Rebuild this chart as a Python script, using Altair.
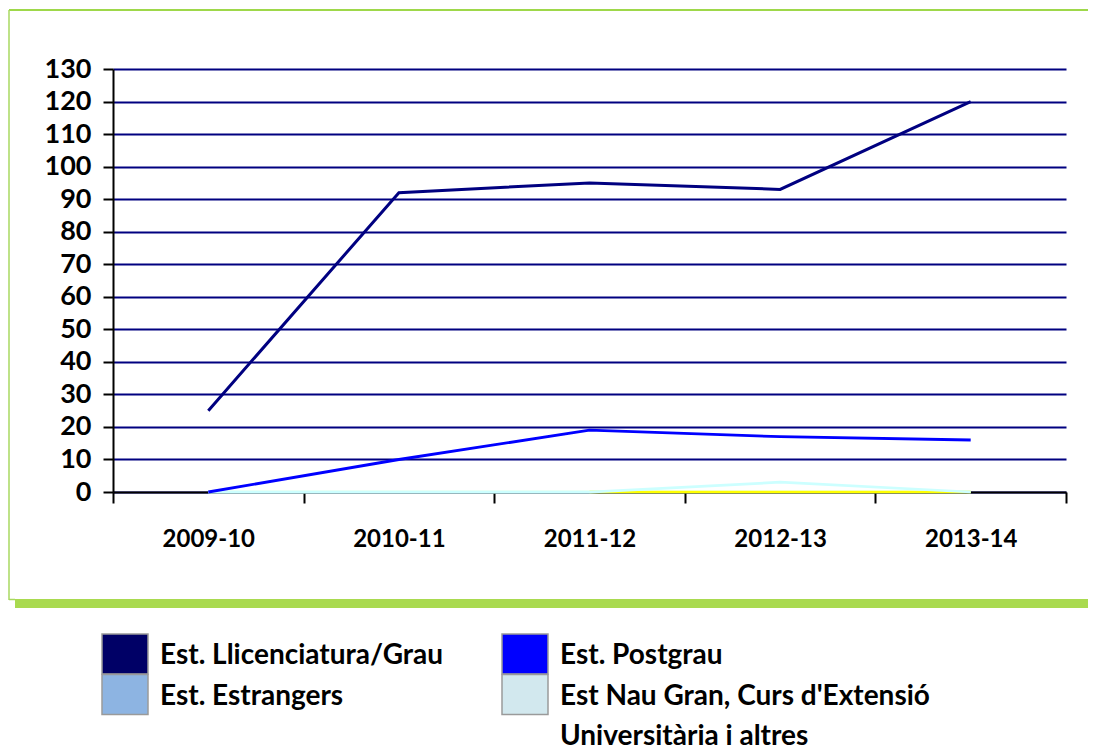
import altair as alt
import pandas as pd

# ---- data ----
years = ["2009-10", "2010-11", "2011-12", "2012-13", "2013-14"]
llicenciatura = [25, 92, 95, 93, 120]
postgrau = [0, 10, 19, 17, 16]
estrangers = [0, 0, 0, 0, 0]
altres = [None, None, 0, 0, 0]
nau_gran = [0, 0, 0, 3, 0]

line_names = ["Est. Estrangers", "Altres", "Est Nau Gran", "Est. Postgrau", "Est. Llicenciatura/Grau"]
line_values = [estrangers, altres, nau_gran, postgrau, llicenciatura]
line_colors = ["#CCFFCC", "#FFFF00", "#CCFFFF", "#0000FF", "#000080"]
line_widths = [2.5, 3, 2.5, 4, 3]

legend_labels = ["Est. Llicenciatura/Grau", "Est. Postgrau", "Est. Estrangers",
                 "Est Nau Gran, Curs d'Extensió", "Universitària i altres"]
legend_cols = [0, 1, 0, 1, 1]
legend_rows = [0, 0, 1, 1, 2]
legend_colors = ["#000066", "#0000FF", "#8DB4E2", "#D2E8EE", None]

rows = []
for name, vals in zip(line_names, line_values):
    for y, v in zip(years, vals):
        rows.append({"year": y, "series": name, "value": v})
df = pd.DataFrame(rows)

leg = pd.DataFrame({"label": legend_labels, "col": legend_cols,
                    "row": legend_rows, "color": legend_colors})

FONT = "Lato"
W, H = 953, 423

lines = alt.Chart(df).mark_line(strokeJoin="miter").encode(
    x=alt.X("year:N", sort=years, bandPosition=0.5,
            scale=alt.Scale(type="band", domain=years, paddingInner=0, paddingOuter=0),
            axis=alt.Axis(title=None, tickBand="extent", domainColor="black", domainWidth=2,
                          tickColor="black", tickWidth=2, tickSize=11,
                          labelFont=FONT, labelFontSize=24, labelFontWeight="bold",
                          labelColor="black", labelPadding=24, grid=False, labelAngle=0)),
    y=alt.Y("value:Q", scale=alt.Scale(domain=[0, 130], nice=False),
            axis=alt.Axis(title=None, values=list(range(0, 131, 10)), domainColor="black",
                          domainWidth=2, tickColor="black", tickWidth=2, tickSize=10,
                          labelFont=FONT, labelFontSize=27, labelFontWeight="bold",
                          labelColor="black", labelPadding=12,
                          grid=True, gridColor="#000080", gridWidth=2)),
    color=alt.Color("series:N", scale=alt.Scale(domain=line_names, range=line_colors), legend=None),
    strokeWidth=alt.StrokeWidth("series:N", scale=alt.Scale(domain=line_names, range=line_widths), legend=None),
    order=alt.Order("series_order:Q"),
).transform_calculate(
    series_order="indexof(" + str(line_names) + ", datum.series)"
)

one = alt.Data(values=[{}])
frame_top = alt.Chart(one).mark_rule(color="#9ED84A", strokeWidth=2).encode(
    x=alt.value(-104), x2=alt.value(975), y=alt.value(-59))
frame_left = alt.Chart(one).mark_rule(color="#A8D860", strokeWidth=1.5).encode(
    x=alt.value(-104), y=alt.value(-59), y2=alt.value(531))
frame_elbow = alt.Chart(one).mark_rule(color="#A8D860", strokeWidth=1.5).encode(
    x=alt.value(-104), x2=alt.value(-98), y=alt.value(530.5))
frame_bar = alt.Chart(one).mark_rect(color="#A9DA4F").encode(
    x=alt.value(-98), x2=alt.value(975), y=alt.value(530), y2=alt.value(539))

lx = alt.X("col:Q", scale=alt.Scale(domain=[0, 1], range=[12, 412]), axis=None)
ly = alt.Y("row:Q", scale=alt.Scale(domain=[0, 2], range=[585, 666]), axis=None)

swatches = alt.Chart(leg).transform_filter("datum.color != null").mark_rect(
    width=46, height=40, stroke="#9A9A9A", strokeWidth=1.5).encode(
    x=lx, y=ly, fill=alt.Fill("color:N", scale=None))
labels = alt.Chart(leg).mark_text(align="left", baseline="middle", dx=35, dy=2,
                                  font=FONT, fontSize=28, fontWeight="bold", color="black").encode(
    x=lx, y=ly, text="label:N")

chart = alt.layer(frame_top, frame_left, frame_elbow, frame_bar, lines, swatches, labels).resolve_scale(
    x="independent", y="independent"
).properties(
    width=W, height=H,
    padding={"left": 105, "top": 61, "right": 22, "bottom": 262},
    autosize=alt.AutoSizeParams(type="none"),
    background="white",
).configure_view(stroke=None)

chart.save("out.html", embed_options={"renderer": "svg", "actions": False})
